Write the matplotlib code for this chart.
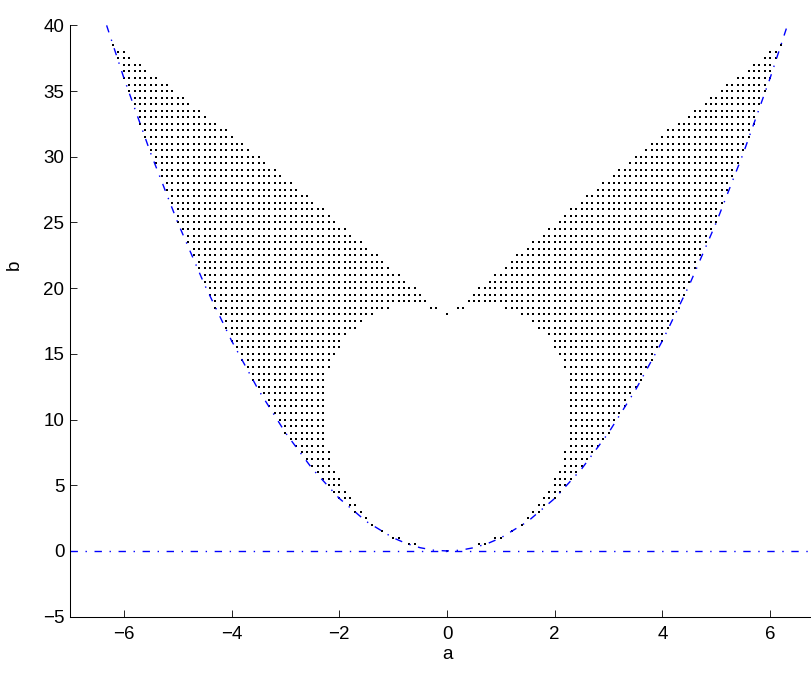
import numpy as np
import matplotlib.pyplot as plt

plt.rcParams['font.family'] = ['Liberation Sans', 'DejaVu Sans']
plt.rcParams['lines.scale_dashes'] = False

# rows of the sampled (a, b) grid that hold dots, with the outer (parabola side)
# and inner |a| limits of each wing, read off the picture
b_rows = [0, 0.5, 1, 1.5, 2, 2.5, 3, 3.5, 4, 4.5, 5, 5.5, 6, 6.5, 7, 7.5, 8, 8.5,
          9, 9.5, 10, 10.5, 11, 11.5, 12, 12.5, 13, 13.5, 14, 14.5, 15, 15.5, 16,
          16.5, 17, 17.5, 18, 18.5, 19, 19.5, 20, 20.5, 21, 21.5, 22, 22.5, 23,
          23.5, 24, 24.5, 25, 25.5, 26, 26.5, 27, 27.5, 28, 28.5, 29, 29.5, 30,
          30.5, 31, 31.5, 32, 32.5, 33, 33.5, 34, 34.5, 35, 35.5, 36, 36.5, 37,
          37.5, 38, 38.5]
outer_a = [0.0, 0.7, 1.0, 1.2, 1.4, 1.5, 1.7, 1.8, 2.0, 2.1, 2.2, 2.3, 2.4, 2.5,
           2.6, 2.7, 2.8, 2.9, 3.0, 3.0, 3.1, 3.2, 3.3, 3.3, 3.4, 3.5, 3.6, 3.6,
           3.7, 3.8, 3.8, 3.9, 4.0, 4.0, 4.1, 4.1, 4.2, 4.3, 4.3, 4.4, 4.4, 4.5,
           4.5, 4.6, 4.6, 4.7, 4.7, 4.8, 4.8, 4.9, 5.0, 5.0, 5.0, 5.1, 5.1, 5.2,
           5.2, 5.3, 5.3, 5.4, 5.4, 5.5, 5.5, 5.6, 5.6, 5.7, 5.7, 5.7, 5.8, 5.8,
           5.9, 5.9, 6.0, 6.0, 6.0, 6.1, 6.1, 6.2]
inner_a = [0.0, 0.6, 0.9, 1.2, 1.4, 1.5, 1.6, 1.7, 1.8, 1.9, 2.0, 2.0, 2.1, 2.2,
           2.2, 2.2, 2.3, 2.3, 2.3, 2.3, 2.3, 2.3, 2.3, 2.3, 2.3, 2.3, 2.3, 2.3,
           2.2, 2.2, 2.1, 2.0, 2.0, 1.9, 1.7, 1.6, 1.4, 1.1, 0.4, 0.5, 0.6, 0.8,
           0.9, 1.1, 1.2, 1.3, 1.5, 1.6, 1.8, 1.9, 2.1, 2.2, 2.3, 2.5, 2.6, 2.8,
           2.9, 3.1, 3.2, 3.4, 3.5, 3.7, 3.8, 4.0, 4.1, 4.3, 4.5, 4.6, 4.8, 4.9,
           5.1, 5.2, 5.4, 5.6, 5.7, 5.9, 6.0, 6.2]
# loose dots near the centre
extra_a = [-0.3, -0.2, 0.2, 0.3, 0.0]
extra_b = [18.5, 18.5, 18.5, 18.5, 18.0]

# dash-dot boundary curves
par_a = [-6.32, -6.0, -5.5, -5.0, -4.5, -4.0, -3.5, -3.0, -2.5, -2.0, -1.5, -1.0,
         -0.75, -0.5, -0.25, 0.0, 0.25, 0.5, 0.75, 1.0, 1.5, 2.0, 2.5, 3.0, 3.5,
         4.0, 4.5, 5.0, 5.5, 6.0, 6.32]
par_b = [40.0, 36.0, 30.25, 25.0, 20.25, 16.0, 12.25, 9.0, 6.25, 4.0, 2.25, 1.0,
         0.56, 0.25, 0.06, 0.0, 0.06, 0.25, 0.56, 1.0, 2.25, 4.0, 6.25, 9.0, 12.25,
         16.0, 20.25, 25.0, 30.25, 36.0, 40.0]
zero_a = [-7, 7]
zero_b = [0, 0]

xticks = [-6, -4, -2, 0, 2, 4, 6]
yticks = [-5, 0, 5, 10, 15, 20, 25, 30, 35, 40]

pa, pb = [], []
for b, hi, lo in zip(b_rows, outer_a, inner_a):
    n = int(round((hi - lo) * 10)) + 1
    for a in lo + 0.1 * np.arange(n):
        pa += [-a, a]
        pb += [b, b]
pa += extra_a
pb += extra_b

fig = plt.figure(figsize=(8.12, 6.73), dpi=100)
ax = fig.add_axes([0.0862, 0.0837, 0.9286, 0.8786])

ax.plot(pa, pb, 's', color='k', markersize=1.5, markeredgewidth=0, linestyle='none')

dashdot = (0, (5.3, 5.5, 1.0, 5.5))
ax.plot(par_a, par_b, color='#0000ff', linewidth=1.0, linestyle=dashdot)
ax.plot(zero_a, zero_b, color='#0000ff', linewidth=1.0, linestyle=dashdot)

ax.set_xlim(-7, 7)
ax.set_ylim(-5, 40)
ax.set_xticks(xticks)
ax.set_yticks(yticks)
ax.spines['top'].set_visible(False)
ax.spines['right'].set_visible(False)
for s in ['left', 'bottom']:
    ax.spines[s].set_linewidth(0.75)
ax.tick_params(direction='in', length=5, width=0.6, labelsize=13.5, top=False, right=False)
ax.tick_params(axis='x', pad=7)
ax.tick_params(axis='y', pad=4)

ax.set_xlabel('a', fontsize=13.5, labelpad=2)
ax.set_ylabel('b', fontsize=13.5)
ax.yaxis.set_label_coords(-0.062, 0.595)

fig.savefig('out.png', dpi=100)
